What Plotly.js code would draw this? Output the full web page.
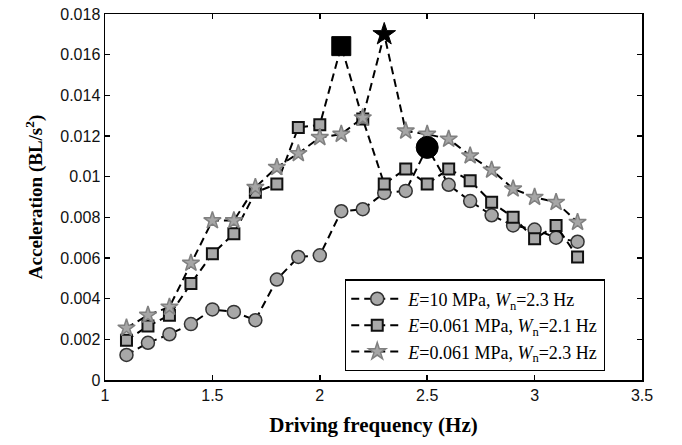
<!DOCTYPE html>
<html>
<head>
<meta charset="utf-8">
<script src="https://cdn.plot.ly/plotly-3.0.1.min.js"></script>
<style>html,body{margin:0;padding:0;background:#fff;}#chart{width:682px;height:445px;}</style>
</head>
<body>
<div id="chart"></div>
<script>
// Driving frequency (Hz)
const freq = [1.1,1.2,1.3,1.4,1.5,1.6,1.7,1.8,1.9,2.0,2.1,2.2,2.3,2.4,2.5,2.6,2.7,2.8,2.9,3.0,3.1,3.2];
// E=10 MPa, Wn=2.3 Hz
const accE10 = [0.00123,0.00183,0.00225,0.00275,0.00347,0.00335,0.00294,0.00494,0.00605,0.00613,0.0083,0.0084,0.0092,0.0093,0.01144,0.0096,0.0088,0.0081,0.0076,0.0074,0.0070,0.0068];
// E=0.061 MPa, Wn=2.1 Hz
const accE061a = [0.00196,0.00265,0.00319,0.00474,0.00621,0.00719,0.00923,0.00964,0.01242,0.01255,0.01642,0.01283,0.00964,0.01038,0.00964,0.01038,0.0098,0.00874,0.0080,0.00695,0.0076,0.00605];
// E=0.061 MPa, Wn=2.3 Hz
const accE061b = [0.00256,0.00319,0.00359,0.00575,0.00784,0.00784,0.00948,0.01046,0.01114,0.01193,0.01209,0.0129,0.0170,0.01225,0.01209,0.01185,0.01103,0.01033,0.0094,0.00899,0.00874,0.00776];
const seriesNames = [
  '<i>E</i>=10 MPa, <i>W</i><sub>n</sub>=2.3 Hz',
  '<i>E</i>=0.061 MPa, <i>W</i><sub>n</sub>=2.1 Hz',
  '<i>E</i>=0.061 MPa, <i>W</i><sub>n</sub>=2.3 Hz'
];
const xTicks = [1,1.5,2,2.5,3,3.5];
const yTicks = [0,0.002,0.004,0.006,0.008,0.01,0.012,0.014,0.016,0.018];
const yTickText = ['0','0.002','0.004','0.006','0.008','0.01','0.012','0.014','0.016','0.018'];

const dashLine = {color:'#000', width:2, dash:'8px,5px'};
function peakIdx(arr){ return arr.indexOf(Math.max.apply(null, arr)); }

const traces = [
  {x:freq, y:accE10, name:seriesNames[0], mode:'lines+markers', line:dashLine,
   marker:{symbol:'circle', size:13, color:'#a8a8a8', line:{color:'#333', width:1.5}}},
  {x:freq, y:accE061a, name:seriesNames[1], mode:'lines+markers', line:dashLine,
   marker:{symbol:'square', size:11, color:'#a8a8a8', line:{color:'#111', width:2}}},
  {x:freq, y:accE061b, name:seriesNames[2], mode:'lines+markers', line:dashLine,
   marker:{symbol:'star', size:13, color:'#a6a6a6', line:{color:'#808080', width:1.5}}}
];
const pk = [
  {arr:accE10, sym:'circle', size:22},
  {arr:accE061a, sym:'square', size:19},
  {arr:accE061b, sym:'star', size:17}
];
pk.forEach(p => {
  const i = peakIdx(p.arr);
  traces.push({x:[freq[i]], y:[p.arr[i]], mode:'markers', showlegend:false, hoverinfo:'skip',
    marker:{symbol:p.sym, size:p.size, color:'#000', line:{color:'#000', width:1}}});
});

const axisFont = {family:'Liberation Sans, Arial, sans-serif', size:16, color:'#111'};
const layout = {
  width:682, height:445,
  margin:{l:104.5, r:40, t:14, b:65, pad:0},
  paper_bgcolor:'#fff', plot_bgcolor:'#fff',
  showlegend:true,
  xaxis:{range:[1,3.5], tickvals:xTicks, ticktext:xTicks.map(String), ticks:'inside', ticklen:5,
    tickwidth:1.5, tickcolor:'#000', showline:true, linecolor:'#000', linewidth:1.5, mirror:'ticks',
    showgrid:false, zeroline:false, tickfont:axisFont,
    title:{text:'Driving frequency (Hz)', font:{family:'Liberation Serif, Times New Roman, serif', size:21, color:'#000', weight:'bold'}, standoff:14}},
  yaxis:{range:[0,0.018], tickvals:yTicks, ticktext:yTickText, ticks:'inside', ticklen:5,
    tickwidth:1.5, tickcolor:'#000', showline:true, linecolor:'#000', linewidth:1.5, mirror:'ticks',
    showgrid:false, zeroline:false, tickfont:axisFont,
    title:{text:'Acceleration (BL/s<sup>2</sup>)', font:{family:'Liberation Serif, Times New Roman, serif', size:19, color:'#000', weight:'bold'}, standoff:12}},
  legend:{x:0.447, y:0.275, xanchor:'left', yanchor:'top', bgcolor:'#fff', bordercolor:'#000', borderwidth:1.2,
    itemwidth:52,
    font:{family:'Liberation Serif, Times New Roman, serif', size:18, color:'#000'}, tracegroupgap:0}
};
Plotly.newPlot('chart', traces, layout, {staticPlot:true, displayModeBar:false});
</script>
</body>
</html>
